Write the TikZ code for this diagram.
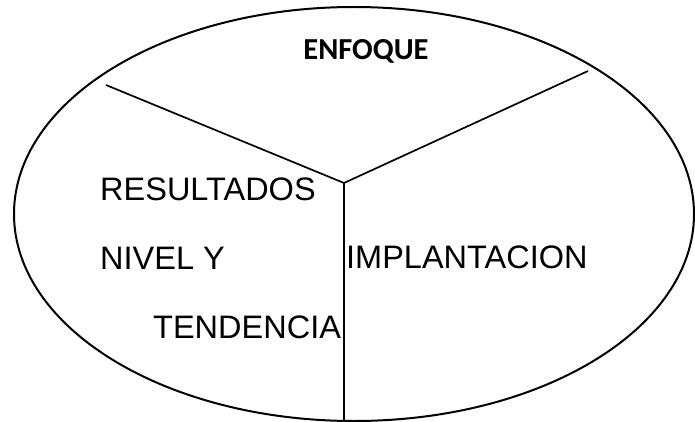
\documentclass[tikz,border=0pt]{standalone}
\usepackage{fontspec}
\setmainfont{Liberation Sans}
\newfontfamily\titlefont{Carlito}
\usetikzlibrary{positioning}
\usetikzlibrary{shapes,arrows}
\tikzset{
	oval/.style={
		ellipse,
		draw,
		line width=2pt,
		inner sep=0pt,
		minimum width=680pt,
		minimum height=414pt
	},
	part/.style={
		inner sep=0pt,
		anchor=base west,
		font=\fontsize{32.5}{38}\selectfont
	},
	divider/.style={
		line width=1.7pt
	}
}

\begin{document}
\begin{tikzpicture}[x=1pt, y=-1pt]
		\useasboundingbox (0,0) rectangle (695,422);
		\draw node[oval] (Oval) at (354,214) {};
		
		\coordinate (Center) at (344,183);
		\coordinate (LeftEnd) at (106,85);
		\coordinate (RightEnd) at (588,71);
		\coordinate (BottomEnd) at (Center |- Oval.south);
		
		\draw node[inner sep=0pt, anchor=base, font=\titlefont\bfseries\fontsize{30.5}{36}\selectfont] (Enfoque) at (366,60) {ENFOQUE};
		\draw node[part] (Resultados) at (100,200) {RESULTADOS};
		\draw node[part] (Nivel) at (100,269) {NIVEL Y};
		\draw node[part] (Tendencia) at (153,338) {TENDENCIA};
		\draw node[part] (Implantacion) at (346,268) {IMPLANTACION};
		
		\draw[divider] (LeftEnd) -- (Center);
		\draw[divider] (RightEnd) -- (Center);
		\draw[divider] (Center) -- (BottomEnd);
	\end{tikzpicture}
\end{document}
